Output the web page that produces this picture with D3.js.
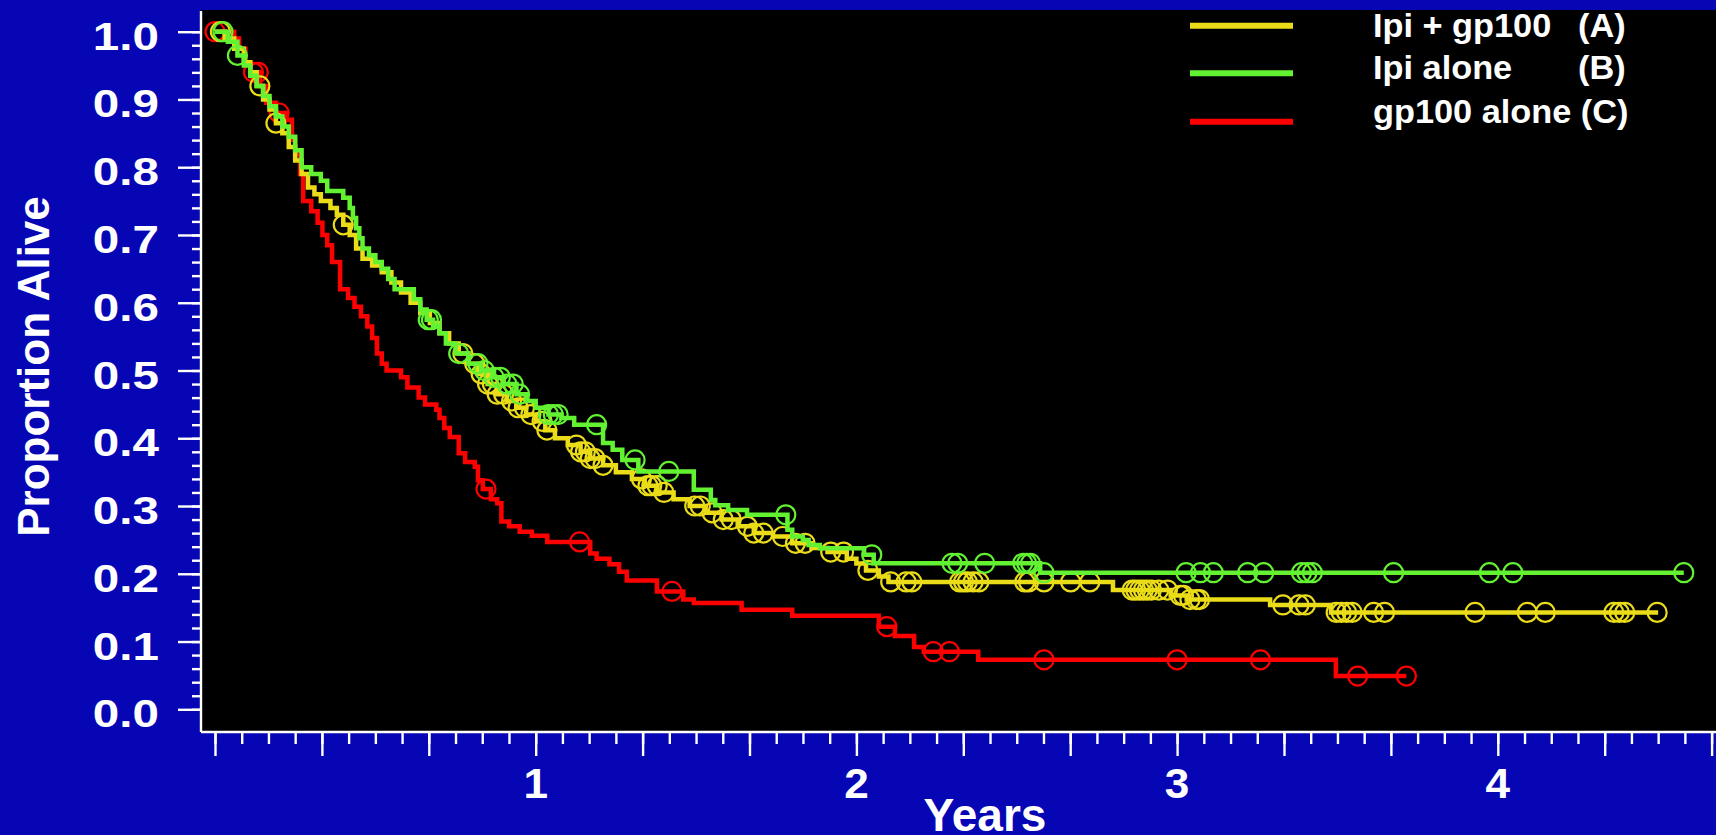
<!DOCTYPE html>
<html>
<head>
<meta charset="utf-8">
<script src="https://cdn.jsdelivr.net/npm/d3@7"></script>
<style>
  html, body { margin: 0; padding: 0; background: #0606B4; }
  svg { display: block; }
  text { font-family: "Liberation Sans", Arial, Helvetica, sans-serif; font-weight: bold; fill: #ffffff; }
</style>
</head>
<body>
<svg id="chart" width="1716" height="835"></svg>
<script>
// Kaplan-Meier overall survival, three arms. Each step is [years, proportion alive after the drop].
const ipiGpSteps = [
  [0,1.0],[0.03,0.99],[0.06,0.975],[0.09,0.955],[0.11,0.94],[0.13,0.92],[0.15,0.90],[0.17,0.885],
  [0.19,0.865],[0.21,0.85],[0.23,0.83],[0.25,0.81],[0.27,0.79],[0.29,0.77],[0.31,0.76],[0.33,0.75],
  [0.36,0.74],[0.38,0.73],[0.40,0.715],[0.42,0.70],[0.44,0.68],[0.46,0.665],[0.49,0.655],[0.52,0.645],
  [0.55,0.63],[0.58,0.615],[0.61,0.60],[0.64,0.585],[0.67,0.57],[0.70,0.555],[0.73,0.54],[0.76,0.525],
  [0.79,0.51],[0.82,0.495],[0.85,0.48],[0.88,0.465],[0.91,0.455],[0.94,0.445],[0.97,0.435],[1.0,0.425],
  [1.03,0.412],[1.06,0.40],[1.10,0.39],[1.14,0.38],[1.17,0.37],[1.21,0.36],[1.25,0.35],[1.30,0.34],
  [1.34,0.33],[1.38,0.32],[1.43,0.31],[1.48,0.30],[1.53,0.29],[1.58,0.28],[1.63,0.27],[1.68,0.26],
  [1.74,0.255],[1.80,0.245],[1.86,0.238],[1.91,0.232],[1.97,0.222],[2.0,0.215],[2.03,0.205],[2.07,0.196],
  [2.10,0.188],[2.80,0.176],[2.98,0.168],[3.03,0.162],[3.29,0.154],[3.48,0.143],[4.50,0.143]
];
const ipiGpCensored = [
  0.017,0.14,0.19,0.40,0.773,0.81,0.83,0.85,0.865,0.88,0.90,0.925,0.945,0.965,0.985,1.02,1.035,
  1.127,1.14,1.155,1.17,1.185,1.21,1.33,1.35,1.362,1.379,1.40,1.496,1.513,1.55,1.585,1.61,1.66,1.68,
  1.71,1.77,1.81,1.84,1.92,1.96,2.036,2.107,2.155,2.173,2.322,2.334,2.346,2.364,2.382,2.525,2.537,
  2.585,2.668,2.728,2.86,2.871,2.883,2.895,2.907,2.92,2.943,2.97,3.01,3.02,3.04,3.06,3.07,3.33,3.38,
  3.40,3.496,3.512,3.529,3.546,3.613,3.647,3.929,4.092,4.148,4.362,4.379,4.396,4.497
];

const ipiSteps = [
  [0,1.0],[0.04,0.985],[0.07,0.965],[0.09,0.95],[0.11,0.935],[0.13,0.92],[0.15,0.905],[0.17,0.89],
  [0.19,0.875],[0.21,0.86],[0.23,0.845],[0.25,0.825],[0.27,0.80],[0.30,0.79],[0.33,0.78],[0.35,0.765],
  [0.40,0.755],[0.42,0.74],[0.43,0.725],[0.44,0.71],[0.45,0.695],[0.46,0.68],[0.48,0.67],[0.50,0.66],
  [0.52,0.65],[0.54,0.635],[0.56,0.62],[0.62,0.605],[0.64,0.59],[0.66,0.575],[0.68,0.565],[0.70,0.555],
  [0.72,0.54],[0.75,0.525],[0.79,0.51],[0.83,0.50],[0.87,0.49],[0.90,0.48],[0.94,0.465],[0.97,0.455],
  [1.0,0.445],[1.04,0.435],[1.08,0.43],[1.12,0.42],[1.21,0.393],[1.24,0.383],[1.27,0.368],[1.32,0.351],
  [1.493,0.324],[1.546,0.309],[1.56,0.301],[1.60,0.294],[1.659,0.287],[1.785,0.265],[1.80,0.255],
  [1.833,0.25],[1.851,0.2425],[1.886,0.2375],[2.024,0.228],[2.054,0.2155],[2.573,0.2016],[4.58,0.2016]
];
const ipiCensored = [
  0.025,0.07,0.665,0.675,0.76,0.82,0.84,0.87,0.89,0.91,0.93,0.95,1.04,1.055,1.07,1.19,1.31,1.415,
  1.78,2.048,2.298,2.316,2.40,2.519,2.531,2.543,2.585,3.028,3.073,3.113,3.22,3.27,3.388,3.405,3.422,
  3.675,3.974,4.047,4.58
];

const gpSteps = [
  [0,1.0],[0.06,0.99],[0.075,0.975],[0.095,0.955],[0.11,0.94],[0.14,0.92],[0.16,0.895],[0.19,0.88],
  [0.22,0.87],[0.24,0.84],[0.25,0.82],[0.265,0.79],[0.275,0.75],[0.30,0.735],[0.32,0.718],[0.335,0.70],
  [0.35,0.685],[0.365,0.66],[0.39,0.62],[0.415,0.607],[0.435,0.594],[0.455,0.58],[0.475,0.565],
  [0.49,0.548],[0.505,0.525],[0.52,0.51],[0.535,0.50],[0.58,0.49],[0.60,0.475],[0.635,0.46],[0.655,0.45],
  [0.69,0.442],[0.70,0.43],[0.715,0.415],[0.732,0.402],[0.76,0.378],[0.78,0.365],[0.81,0.358],
  [0.82,0.338],[0.835,0.325],[0.86,0.31],[0.88,0.304],[0.893,0.277],[0.917,0.27],[0.95,0.262],
  [0.988,0.256],[1.036,0.247],[1.17,0.23],[1.19,0.222],[1.23,0.214],[1.26,0.203],[1.284,0.19],
  [1.378,0.174],[1.46,0.162],[1.493,0.157],[1.642,0.147],[1.80,0.138],[2.07,0.122],[2.12,0.108],
  [2.18,0.092],[2.21,0.085],[2.38,0.073],[3.495,0.049],[3.715,0.049]
];
const gpCensored = [0.0,0.12,0.135,0.20,0.845,1.137,1.425,2.095,2.24,2.29,2.585,3.0,3.26,3.563,3.715];

const legendNames = ["Ipi + gp100", "Ipi alone", "gp100 alone (C)"];
const legendTags = ["(A)", "(B)", ""];
const armColors = ["#EBDC19", "#62F232", "#FF0000"];

const yTickValues = d3.range(0, 11).map(i => i / 10);
const yMinorValues = d3.range(0, 51).map(i => i / 50);
const xTickLabels = [1, 2, 3, 4];
const xMajorValues = d3.range(0, 15).map(i => i / 3);
const xMinorValues = d3.range(0, 57).map(i => i / 12);

const W = 1716, H = 835;
const svg = d3.select("#chart");
const plot = { left: 201, top: 10, right: W, bottom: 732 };

const x = d3.scaleLinear().domain([0, 4.68]).range([215, 215 + 4.68 * 320.7]);
const y = d3.scaleLinear().domain([0, 1]).range([709.3, 31.7]);

// backgrounds
svg.append("rect").attr("width", W).attr("height", H).attr("fill", "#0606B4");
svg.append("rect").attr("x", plot.left).attr("y", plot.top)
  .attr("width", plot.right - plot.left).attr("height", plot.bottom - plot.top).attr("fill", "#000");

// y axis: minor then major ticks
const yMinor = svg.append("g").attr("transform", `translate(${plot.left},0)`)
  .call(d3.axisLeft(y).tickValues(yMinorValues).tickSize(9).tickFormat(""));
const yMajor = svg.append("g").attr("transform", `translate(${plot.left},0)`)
  .call(d3.axisLeft(y).tickValues(yTickValues).tickSize(23).tickPadding(0).tickFormat(d3.format(".1f")));
[yMinor, yMajor].forEach(g => {
  g.select(".domain").remove();
  g.selectAll(".tick line").attr("stroke", "#fff").attr("stroke-width", 2.4);
});
yMajor.selectAll(".tick text")
  .attr("x", 0).attr("dy", null).attr("y", 0)
  .attr("font-size", 39).attr("fill", "#fff").attr("text-anchor", "end")
  .attr("transform", "translate(-42,17.5) scale(1.22,1)");

// x axis
const xMinor = svg.append("g").attr("transform", `translate(0,${plot.bottom})`)
  .call(d3.axisBottom(x).tickValues(xMinorValues).tickSize(12).tickFormat(""));
const xMajor = svg.append("g").attr("transform", `translate(0,${plot.bottom})`)
  .call(d3.axisBottom(x).tickValues(xMajorValues).tickSize(24).tickFormat(""));
[xMinor, xMajor].forEach(g => {
  g.select(".domain").remove();
  g.selectAll(".tick line").attr("stroke", "#fff").attr("stroke-width", 2.4);
});
svg.append("g").selectAll("text").data(xTickLabels).join("text")
  .attr("transform", d => `translate(${x(d)},798) scale(1.05,1)`)
  .attr("text-anchor", "middle").attr("font-size", 42).text(d => d);

// axis lines
svg.append("line").attr("x1", plot.left).attr("x2", plot.left).attr("y1", plot.top + 1).attr("y2", plot.bottom)
  .attr("stroke", "#fff").attr("stroke-width", 2.4);
svg.append("line").attr("x1", plot.left).attr("x2", W).attr("y1", plot.bottom).attr("y2", plot.bottom)
  .attr("stroke", "#fff").attr("stroke-width", 2.4);

// axis titles
svg.append("text").attr("x", 985).attr("y", 831).attr("text-anchor", "middle")
  .attr("font-size", 46).text("Years");
svg.append("text").attr("transform", "translate(49,366.5) rotate(-90)").attr("text-anchor", "middle")
  .attr("font-size", 44).text("Proportion Alive");

// survival curves
function survivalAt(steps, t) {
  let p = steps[0][1];
  for (const s of steps) { if (s[0] <= t + 1e-9) p = s[1]; else break; }
  return p;
}
const line = d3.line().x(d => x(d[0])).y(d => y(d[1])).curve(d3.curveStepAfter);
const arms = [
  { steps: gpSteps, cens: gpCensored, color: armColors[2] },
  { steps: ipiGpSteps, cens: ipiGpCensored, color: armColors[0] },
  { steps: ipiSteps, cens: ipiCensored, color: armColors[1] }
];
const curves = svg.append("g");
arms.forEach(a => {
  const g = curves.append("g");
  g.append("path").datum(a.steps).attr("d", line).attr("fill", "none")
    .attr("stroke", a.color).attr("stroke-width", 4.5).attr("stroke-linejoin", "miter");
  g.selectAll("circle").data(a.cens).join("circle")
    .attr("cx", d => x(d)).attr("cy", d => y(survivalAt(a.steps, d))).attr("r", 9.5)
    .attr("fill", "none").attr("stroke", a.color).attr("stroke-width", 2.2);
});

// legend
const legend = svg.append("g");
const legendLineY = [25.7, 73.3, 121.7];
const legendTextY = [37, 79, 123];
legendNames.forEach((name, i) => {
  legend.append("line").attr("x1", 1190).attr("x2", 1293)
    .attr("y1", legendLineY[i]).attr("y2", legendLineY[i])
    .attr("stroke", armColors[i]).attr("stroke-width", 6);
  legend.append("text").attr("transform", `translate(1373,${legendTextY[i]}) scale(1.04,1)`)
    .attr("font-size", 33).text(name);
  if (legendTags[i]) {
    legend.append("text").attr("transform", `translate(1578,${legendTextY[i]}) scale(1.04,1)`)
      .attr("font-size", 33).text(legendTags[i]);
  }
});
</script>
</body>
</html>
